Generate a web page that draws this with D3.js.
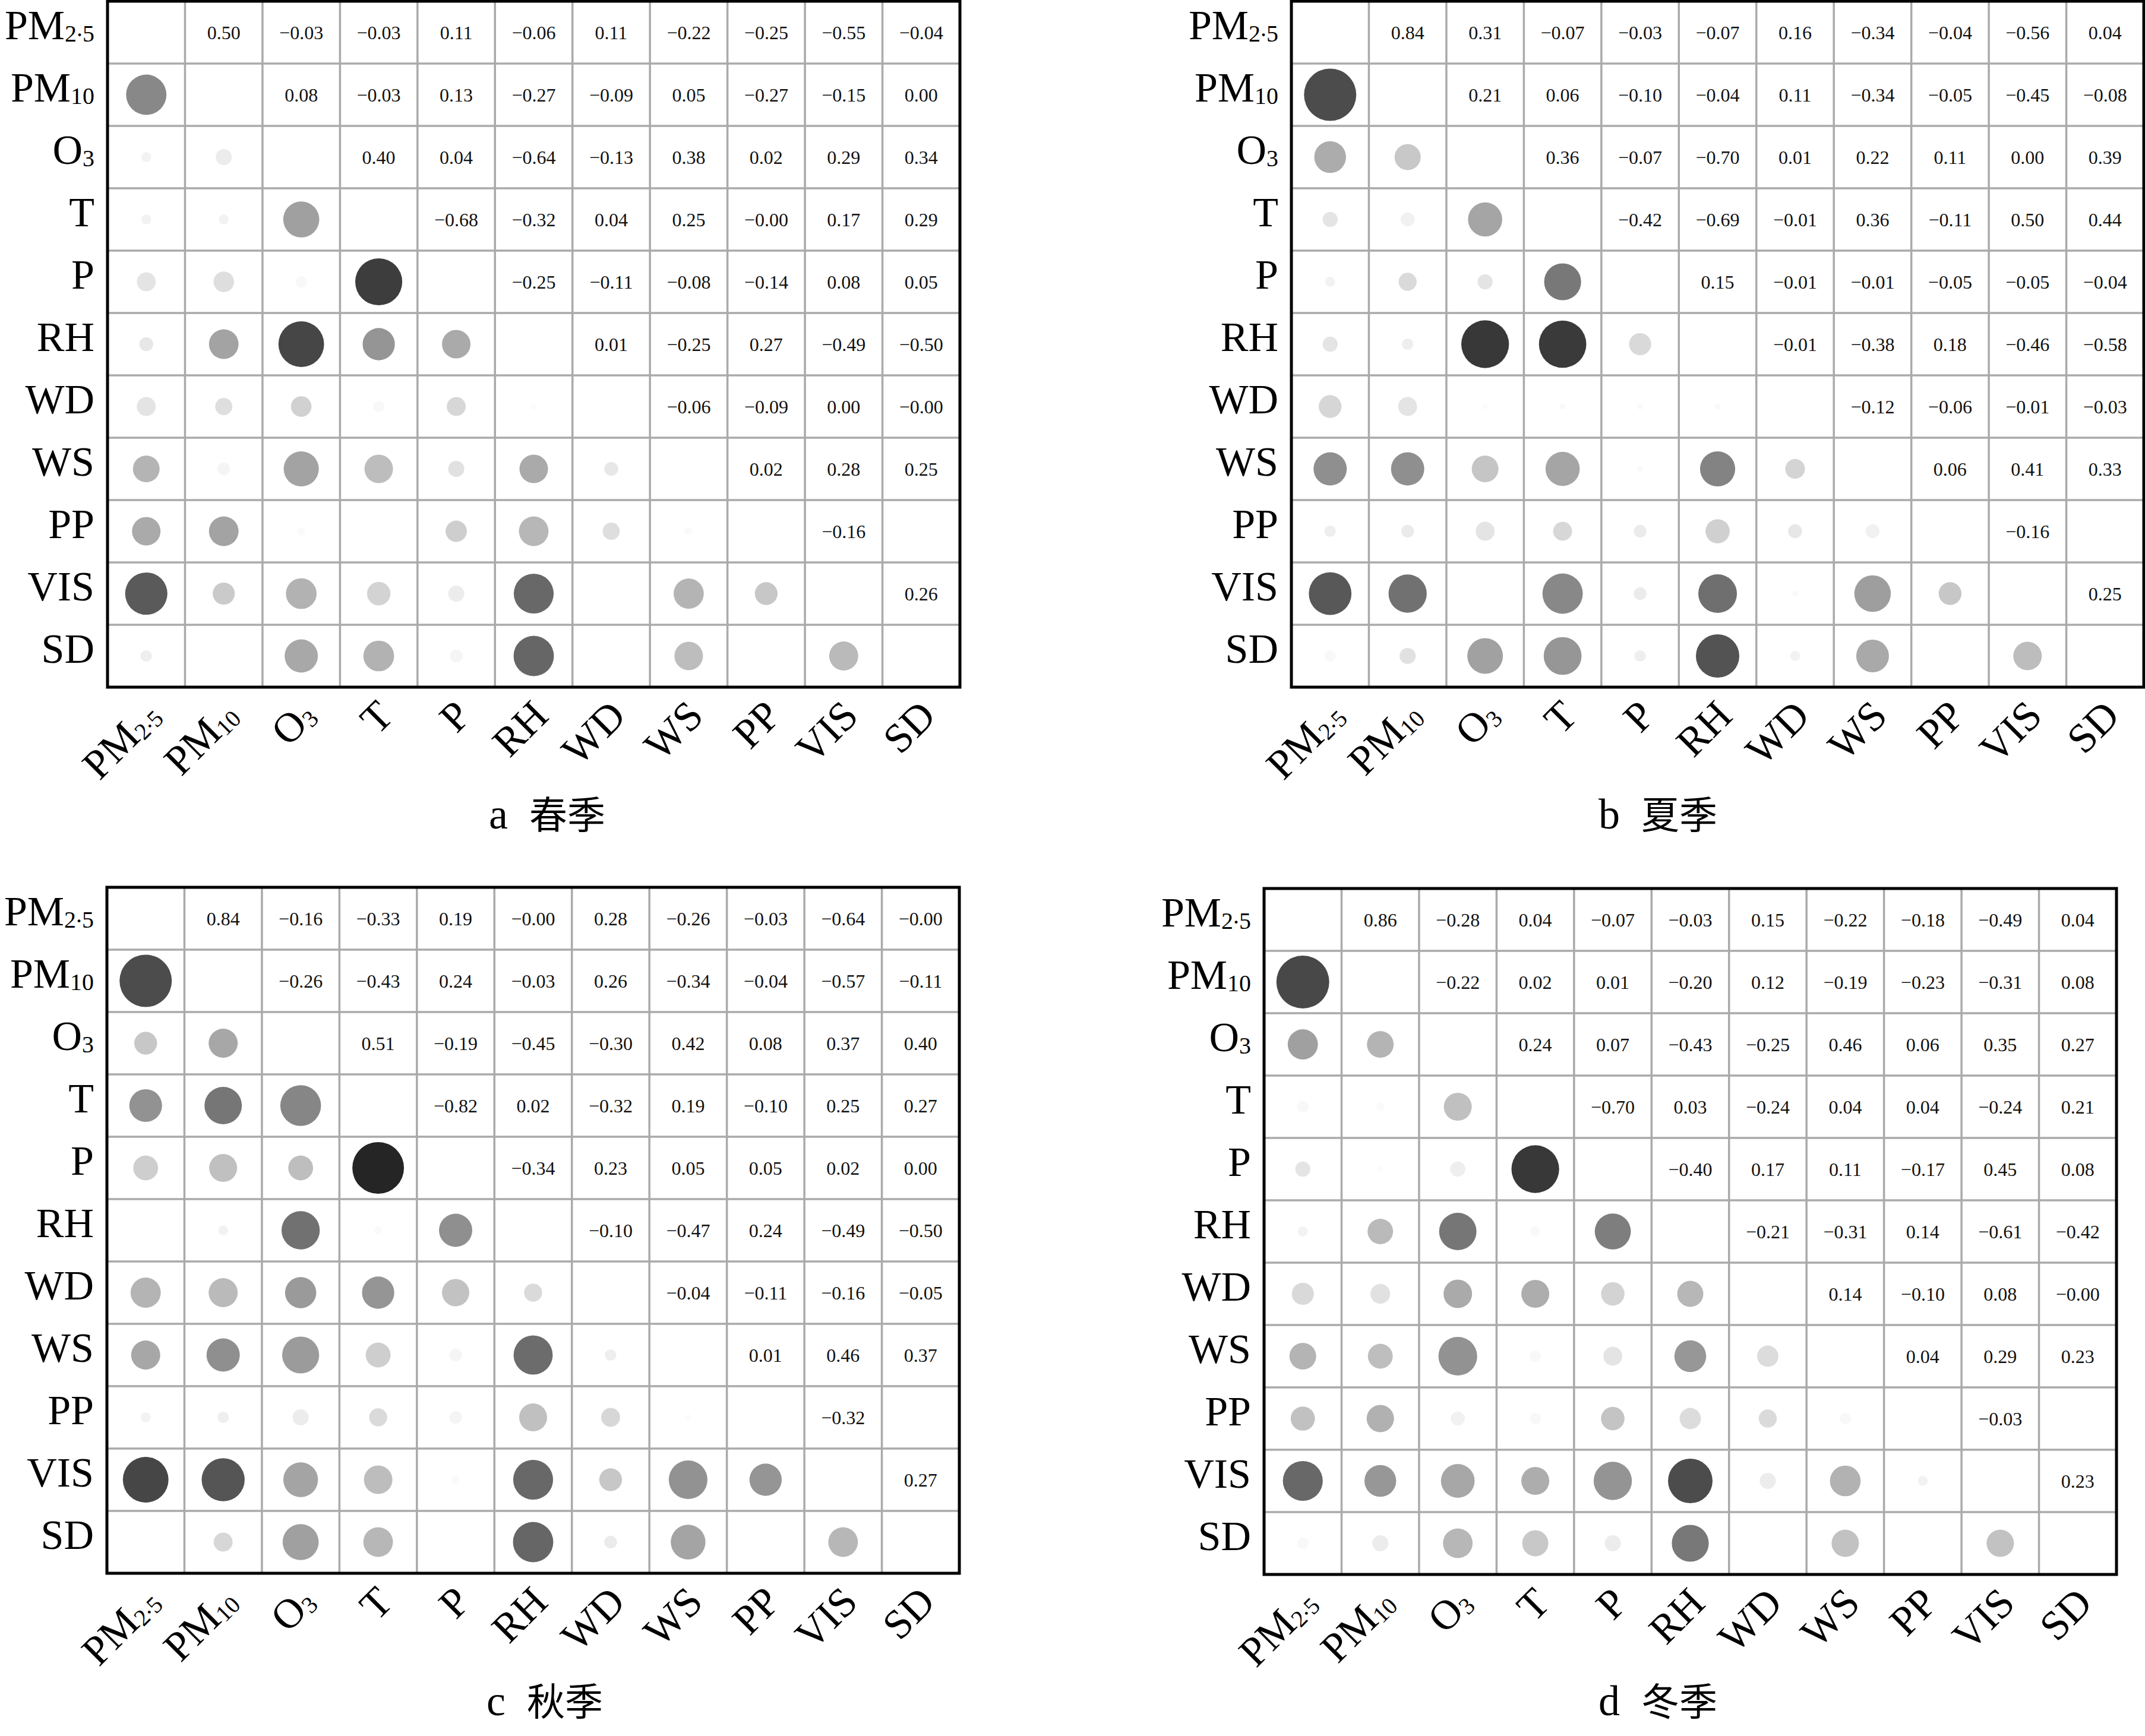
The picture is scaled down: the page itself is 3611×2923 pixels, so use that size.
<!DOCTYPE html>
<html>
<head>
<meta charset="utf-8">
<script src="https://cdn.jsdelivr.net/npm/d3@7"></script>
<style>
  body { margin: 0; background: #fff; }
  svg { display: block; }
</style>
</head>
<body>
<div id="chart"></div>
<script>
// variables (rows and columns)
const vars = ["PM2.5", "PM10", "O3", "T", "P", "RH", "WD", "WS", "PP", "VIS", "SD"];

// upper triangle values, row i holds columns i+1..10 (null = no value)
const spring = [
  [0.50, -0.03, -0.03, 0.11, -0.06, 0.11, -0.22, -0.25, -0.55, -0.04],
  [0.08, -0.03, 0.13, -0.27, -0.09, 0.05, -0.27, -0.15, 0.00],
  [0.40, 0.04, -0.64, -0.13, 0.38, 0.02, 0.29, 0.34],
  [-0.68, -0.32, 0.04, 0.25, -0, 0.17, 0.29],
  [-0.25, -0.11, -0.08, -0.14, 0.08, 0.05],
  [0.01, -0.25, 0.27, -0.49, -0.50],
  [-0.06, -0.09, 0.00, -0],
  [0.02, 0.28, 0.25],
  [-0.16, null],
  [0.26]
];

const summer = [
  [0.84, 0.31, -0.07, -0.03, -0.07, 0.16, -0.34, -0.04, -0.56, 0.04],
  [0.21, 0.06, -0.10, -0.04, 0.11, -0.34, -0.05, -0.45, -0.08],
  [0.36, -0.07, -0.70, 0.01, 0.22, 0.11, 0.00, 0.39],
  [-0.42, -0.69, -0.01, 0.36, -0.11, 0.50, 0.44],
  [0.15, -0.01, -0.01, -0.05, -0.05, -0.04],
  [-0.01, -0.38, 0.18, -0.46, -0.58],
  [-0.12, -0.06, -0.01, -0.03],
  [0.06, 0.41, 0.33],
  [-0.16, null],
  [0.25]
];

const autumn = [
  [0.84, -0.16, -0.33, 0.19, -0, 0.28, -0.26, -0.03, -0.64, -0],
  [-0.26, -0.43, 0.24, -0.03, 0.26, -0.34, -0.04, -0.57, -0.11],
  [0.51, -0.19, -0.45, -0.30, 0.42, 0.08, 0.37, 0.40],
  [-0.82, 0.02, -0.32, 0.19, -0.10, 0.25, 0.27],
  [-0.34, 0.23, 0.05, 0.05, 0.02, 0.00],
  [-0.10, -0.47, 0.24, -0.49, -0.50],
  [-0.04, -0.11, -0.16, -0.05],
  [0.01, 0.46, 0.37],
  [-0.32, null],
  [0.27]
];

const winter = [
  [0.86, -0.28, 0.04, -0.07, -0.03, 0.15, -0.22, -0.18, -0.49, 0.04],
  [-0.22, 0.02, 0.01, -0.20, 0.12, -0.19, -0.23, -0.31, 0.08],
  [0.24, 0.07, -0.43, -0.25, 0.46, 0.06, 0.35, 0.27],
  [-0.70, 0.03, -0.24, 0.04, 0.04, -0.24, 0.21],
  [-0.40, 0.17, 0.11, -0.17, 0.45, 0.08],
  [-0.21, -0.31, 0.14, -0.61, -0.42],
  [0.14, -0.10, 0.08, -0],
  [0.04, 0.29, 0.23],
  [-0.03, null],
  [0.23]
];

const panelLetters = ["a", "b", "c", "d"];
const seasonNames = ["春季", "夏季", "秋季", "冬季"];
const seasonData = [spring, summer, autumn, winter];

// Dimensions
const width = 3611, height = 2923;
const tableW = 1435, tableH = 1155;
const panelPos = [[181, 2], [2174, 2], [180, 1494], [2128, 1496]];
const captionPos = [[921, 1395], [2791, 1395], [917, 2888], [2791, 2888]];

const serif = '"Liberation Serif", "Times New Roman", serif';

const svg = d3.select("#chart").append("svg")
  .attr("width", width)
  .attr("height", height)
  .style("background", "#fff");

const x = d3.scaleBand().domain(vars).range([0, tableW]);
const y = d3.scaleBand().domain(vars).range([0, tableH]);

// circle area follows |r|
const radius = d3.scaleSqrt().domain([0, 1]).range([0, 48]);
// grey level: negative r comes out darker than positive
const grey = d3.scaleLinear()
  .domain([-0.85, -0.70, -0.55, -0.42, -0.28, -0.22, -0.07, 0, 0.04, 0.07, 0.11, 0.21, 0.31, 0.40, 0.50, 0.86])
  .range([32, 56, 90, 120, 160, 180, 228, 252, 248, 238, 228, 200, 172, 160, 136, 72])
  .clamp(true);

const fmt = v => ((v < 0 || Object.is(v, -0)) ? "\u2212" : "") + Math.abs(v).toFixed(2);

// label with subscript (PM2.5, PM10, O3)
function writeLabel(text, name, size) {
  const m = name.match(/^([A-Z]+?)(\d[\d.]*)$/);
  if (!m) { text.text(name); return; }
  text.append("tspan").text(m[1]);
  const sub = size * 0.57;
  const parts = m[2].split(".");
  text.append("tspan").attr("font-size", sub).attr("dy", size * 0.07).text(parts[0]);
  if (parts.length > 1) {
    text.append("tspan").attr("font-size", sub).attr("dy", -size * 0.13).text(".");
    text.append("tspan").attr("font-size", sub).attr("dy", size * 0.13).text(parts[1]);
  }
}

seasonData.forEach((rows, p) => {
  // flat list of cells
  const cells = [];
  rows.forEach((r, i) => r.forEach((v, k) => {
    const j = i + 1 + k;
    cells.push({row: vars[i], col: vars[j], v: v});
  }));

  const g = svg.append("g")
    .attr("transform", `translate(${panelPos[p][0]}, ${panelPos[p][1]})`);

  // numbers in the upper triangle
  g.selectAll("text.val")
    .data(cells.filter(d => d.v !== null))
    .enter().append("text")
    .attr("class", "val")
    .attr("x", d => x(d.col) + x.bandwidth() / 2)
    .attr("y", d => y(d.row) + y.bandwidth() / 2)
    .attr("dy", "0.35em")
    .attr("text-anchor", "middle")
    .attr("font-family", serif)
    .attr("font-size", 32)
    .attr("fill", "#111")
    .text(d => fmt(d.v));

  // circles in the lower triangle (mirror)
  g.selectAll("circle")
    .data(cells.filter(d => d.v !== null))
    .enter().append("circle")
    .attr("cx", d => x(d.row) + x.bandwidth() / 2)
    .attr("cy", d => y(d.col) + y.bandwidth() / 2)
    .attr("r", d => radius(Math.abs(d.v)))
    .attr("fill", d => { const c = Math.round(grey(d.v)); return d3.rgb(c, c, c); });

  // grid
  g.selectAll("line.v")
    .data(vars.slice(1))
    .enter().append("line")
    .attr("x1", d => x(d)).attr("x2", d => x(d))
    .attr("y1", 0).attr("y2", tableH)
    .attr("stroke", "#aaa").attr("stroke-width", 3.5);
  g.selectAll("line.h")
    .data(vars.slice(1))
    .enter().append("line")
    .attr("y1", d => y(d)).attr("y2", d => y(d))
    .attr("x1", 0).attr("x2", tableW)
    .attr("stroke", "#aaa").attr("stroke-width", 3.5);

  g.append("rect")
    .attr("width", tableW).attr("height", tableH)
    .attr("fill", "none").attr("stroke", "#000").attr("stroke-width", 5);

  // row labels
  vars.forEach(name => {
    const t = g.append("text")
      .attr("x", -22)
      .attr("y", y(name) + y.bandwidth() / 2 + 11)
      .attr("text-anchor", "end")
      .attr("font-family", serif)
      .attr("font-size", 70)
      .attr("fill", "#000");
    writeLabel(t, name, 70);
  });

  // column labels, rotated
  vars.forEach(name => {
    const cx = x(name) + x.bandwidth() / 2 + 28;
    const cy = tableH + 52;
    const t = g.append("text")
      .attr("transform", `translate(${cx}, ${cy}) rotate(-45)`)
      .attr("text-anchor", "end")
      .attr("font-family", serif)
      .attr("font-size", 70)
      .attr("fill", "#000");
    writeLabel(t, name, 70);
  });

  // caption
  const cap = svg.append("text")
    .attr("x", captionPos[p][0])
    .attr("y", captionPos[p][1])
    .attr("text-anchor", "middle")
    .attr("fill", "#000");
  cap.append("tspan")
    .attr("font-family", serif).attr("font-size", 72)
    .text(panelLetters[p]);
  cap.append("tspan")
    .attr("font-family", '"Noto Sans CJK SC", sans-serif').attr("font-size", 64)
    .attr("dx", 36)
    .text(seasonNames[p]);
});
</script>
</body>
</html>
